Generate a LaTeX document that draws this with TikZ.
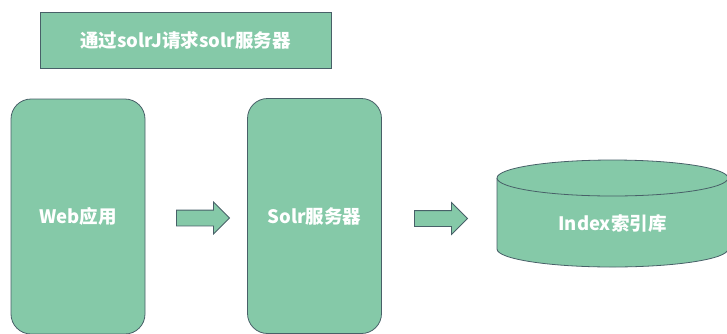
\documentclass[tikz,border=0pt]{standalone}
\usepackage{fontspec}
\setmainfont{Noto Sans CJK SC}
\usetikzlibrary{shapes.arrows,positioning}
\definecolor{SolrGreen}{RGB}{133,201,168}
\definecolor{SolrEdge}{RGB}{72,96,104}
\tikzset{
  pane/.style={draw=SolrEdge,line width=.8pt,fill=SolrGreen,text=white,font=\fontsize{18.5}{20}\selectfont\bfseries,inner sep=0pt},
  stepbox/.style={pane,rounded corners=20pt,minimum width=134pt,minimum height=235pt},
  fatarrow/.style={draw=SolrEdge,line width=.8pt,fill=SolrGreen,single arrow,single arrow head extend=8pt,single arrow tip angle=90,inner xsep=0pt,inner ysep=7.5pt,minimum height=53pt}
}
\begin{document}
\begin{tikzpicture}[x=1pt,y=-1pt]
      \useasboundingbox (0,0) rectangle (727,333);
      \node[pane,minimum width=291pt,minimum height=56pt] (title) at (185.5,40) {通过solrJ请求solr服务器};
      \node[stepbox] (web) at (78,216.5) {Web应用};
      \node[stepbox] (solr) at (314.5,216) {Solr服务器};
      % index store
      \path[pane] (497,178) -- (497,249) arc[start angle=180,end angle=360,x radius=115.5pt,y radius=18pt] -- (728,178);
      \path[pane] (612.5,178) ellipse[x radius=115.5pt,y radius=18pt];
      \node[text=white,font=\fontsize{18.5}{20}\selectfont\bfseries] (index) at (612.5,223) {Index索引库};
      \node[fatarrow] (a1) at (199,218) {};
      \node[fatarrow] (a2) at (437,218.5) {};
\end{tikzpicture}
\end{document}
